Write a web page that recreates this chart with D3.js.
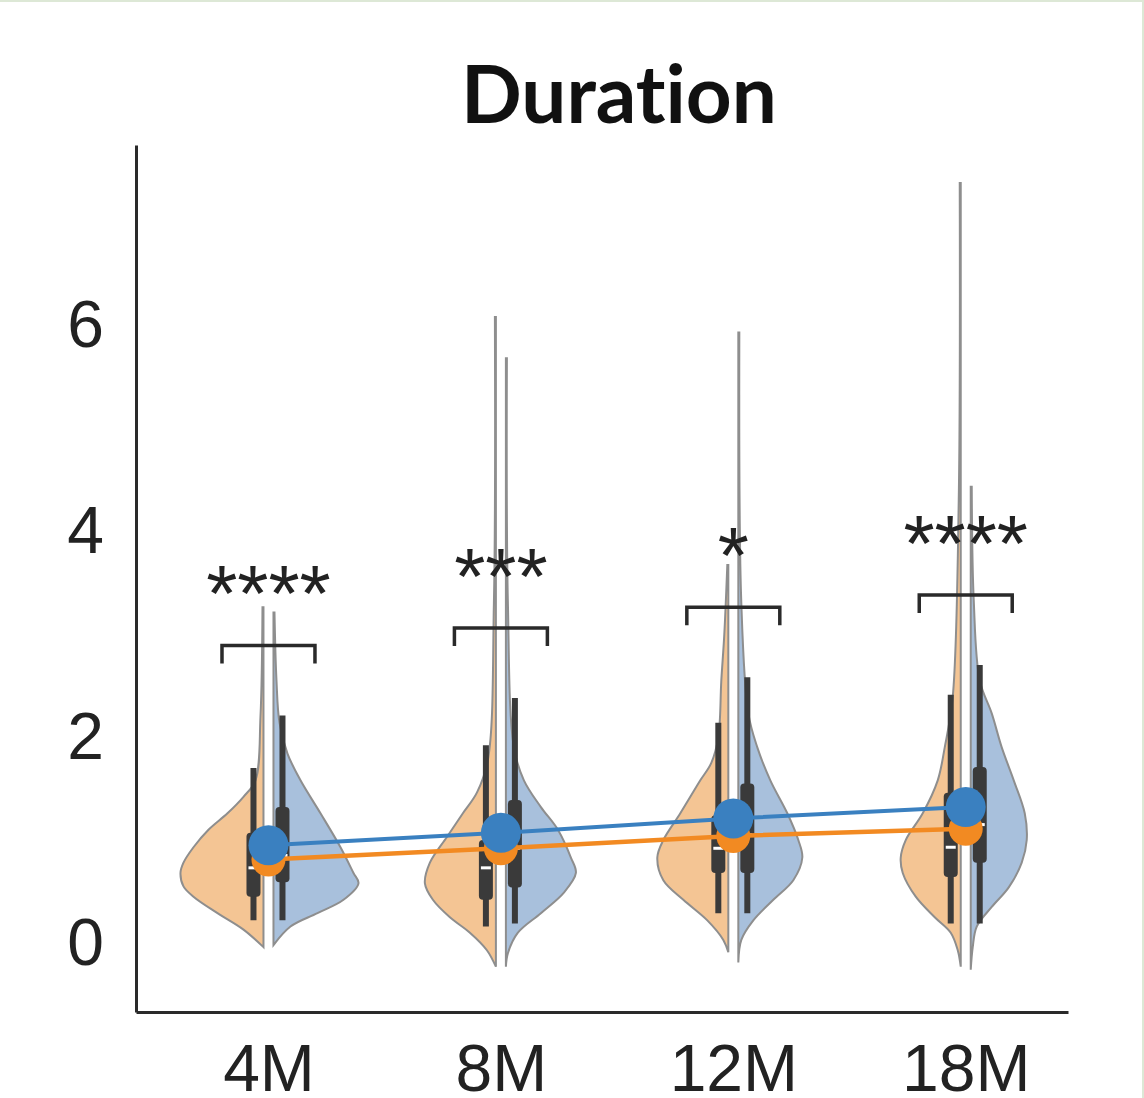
<!DOCTYPE html>
<html>
<head>
<meta charset="utf-8">
<script src="https://cdn.jsdelivr.net/npm/d3@7"></script>
<style>
    body { margin: 0; background: #fff; }
    #frame {
        width: 1142px; height: 1096px;
        border-top: 2px solid #dde8d6;
        border-right: 2px solid #dde8d6;
        position: relative;
    }
    svg { position: absolute; left: 0; top: -2px; }
</style>
</head>
<body>
<div id="frame"><svg id="chart" width="1144" height="1098"></svg></div>
<script>
// categories and tick labels
const categories = ["4M", "8M", "12M", "18M"];
const yTicks = [0, 2, 4, 6];

// group means (orange = left half, blue = right half)
const orangeMeans = [0.81, 0.92, 1.04, 1.11];
const blueMeans = [0.95, 1.07, 1.21, 1.32];

// box stats: [low whisker, q1, median, q3, high whisker]
const orangeBoxes = [
    [0.22, 0.45, 0.73, 1.07, 1.70],
    [0.16, 0.42, 0.73, 1.00, 1.92],
    [0.29, 0.68, 0.92, 1.24, 2.14],
    [0.19, 0.64, 0.93, 1.46, 2.41]
];
const blueBoxes = [
    [0.22, 0.59, 0.85, 1.32, 2.21],
    [0.19, 0.54, 0.92, 1.39, 2.38],
    [0.29, 0.68, 1.05, 1.55, 2.58],
    [0.19, 0.78, 1.15, 1.71, 2.70]
];

// violin profiles: [value, relative density]
const orangeViolins = [
    [[3.26, 0.01], [2.2, 0.03], [1.58, 0.08], [1.42, 0.20], [1.26, 0.36], [1.10, 0.55], [0.93, 0.70], [0.78, 0.80], [0.68, 0.83], [0.55, 0.80], [0.45, 0.70], [0.29, 0.46], [0.13, 0.20], [-0.04, 0]],
    [[6.08, 0.01], [3.3, 0.02], [1.78, 0.08], [1.46, 0.19], [1.26, 0.33], [1.03, 0.49], [0.78, 0.66], [0.58, 0.71], [0.42, 0.63], [0.25, 0.46], [0.10, 0.26], [-0.07, 0.09], [-0.23, 0]],
    [[3.67, 0.01], [3.0, 0.04], [2.55, 0.07], [2.0, 0.10], [1.75, 0.17], [1.58, 0.28], [1.26, 0.48], [1.00, 0.65], [0.83, 0.71], [0.61, 0.65], [0.42, 0.45], [0.22, 0.21], [0.03, 0.05], [-0.09, 0]],
    [[7.38, 0.01], [4.3, 0.02], [2.39, 0.08], [1.90, 0.16], [1.58, 0.23], [1.26, 0.38], [1.00, 0.55], [0.83, 0.60], [0.68, 0.58], [0.45, 0.45], [0.25, 0.26], [0.10, 0.10], [-0.07, 0.03], [-0.23, 0]]
];
const blueViolins = [
    [[3.21, 0.01], [2.55, 0.03], [2.14, 0.06], [1.84, 0.14], [1.58, 0.27], [1.26, 0.47], [0.93, 0.67], [0.68, 0.80], [0.58, 0.85], [0.42, 0.70], [0.29, 0.44], [0.16, 0.17], [-0.02, 0]],
    [[5.68, 0.01], [3.3, 0.02], [1.90, 0.08], [1.58, 0.18], [1.32, 0.35], [1.10, 0.52], [0.83, 0.65], [0.68, 0.70], [0.49, 0.58], [0.29, 0.35], [0.10, 0.12], [-0.10, 0.02], [-0.23, 0]],
    [[5.93, 0.01], [3.3, 0.03], [2.23, 0.10], [1.90, 0.19], [1.58, 0.32], [1.26, 0.49], [1.00, 0.60], [0.83, 0.64], [0.61, 0.55], [0.42, 0.35], [0.22, 0.15], [0.03, 0.03], [-0.19, 0]],
    [[4.43, 0.01], [3.33, 0.03], [2.55, 0.09], [2.23, 0.21], [1.90, 0.31], [1.58, 0.43], [1.26, 0.54], [1.00, 0.56], [0.78, 0.51], [0.54, 0.38], [0.35, 0.21], [0.16, 0.06], [-0.04, 0.02], [-0.26, 0]]
];

// significance brackets
const bracketY = [2.89, 3.06, 3.26, 3.38];
const sigLabels = ["****", "***", "*", "****"];

const svg = d3.select("#chart");

// Scales
const x = d3.scaleLinear().domain([-0.57, 3.44]).range([136, 1068]);
const y = d3.scaleLinear().domain([-0.67, 7.75]).range([1012, 145]);
const dens = d3.scaleLinear().domain([0, 1]).range([0, 100]); // density -> px

const gap = 5;        // half gap between the two violin halves
const boxOffset = 14; // box plot shift from the centre
const lineColor = "#2a2a2a";

// Title
svg.append("text")
    .attr("x", 619)
    .attr("y", 123)
    .attr("text-anchor", "middle")
    .attr("font-family", "Lato, 'Open Sans', sans-serif")
    .attr("font-weight", "bold")
    .attr("font-size", "80px")
    .style("font-variant-ligatures", "none")
    .style("font-feature-settings", "'liga' 0")
    .attr("fill", "#111")
    .text("Duration");

// Violin halves
function halfArea(i, side) {
    const xc = x(i);
    return d3.area()
        .curve(d3.curveCatmullRom)
        .y(d => y(d[0]))
        .x0(xc + side * gap)
        .x1(d => xc + side * (gap + dens(d[1])));
}

const violins = svg.append("g");
categories.forEach((c, i) => {
    violins.append("path")
        .datum(orangeViolins[i])
        .attr("d", halfArea(i, -1))
        .attr("fill", "#f4c594")
        .attr("stroke", "#8e8e8e")
        .attr("stroke-width", 2);
    violins.append("path")
        .datum(blueViolins[i])
        .attr("d", halfArea(i, 1))
        .attr("fill", "#a8c0dc")
        .attr("stroke", "#8e8e8e")
        .attr("stroke-width", 2);
});

// Box plots
function drawBox(g, stats, cx) {
    g.append("line")
        .attr("x1", cx).attr("x2", cx)
        .attr("y1", y(stats[0])).attr("y2", y(stats[4]))
        .attr("stroke", "#3a3a3a")
        .attr("stroke-width", 6);
    g.append("rect")
        .attr("x", cx - 7)
        .attr("width", 14)
        .attr("y", y(stats[3]))
        .attr("height", y(stats[1]) - y(stats[3]))
        .attr("rx", 4)
        .attr("fill", "#3a3a3a");
    g.append("line")
        .attr("x1", cx - 5).attr("x2", cx + 5)
        .attr("y1", y(stats[2])).attr("y2", y(stats[2]))
        .attr("stroke", "#fff")
        .attr("stroke-width", 3);
}

const boxes = svg.append("g");
categories.forEach((c, i) => {
    drawBox(boxes, orangeBoxes[i], x(i) - boxOffset - 1);
    drawBox(boxes, blueBoxes[i], x(i) + boxOffset);
});

// Mean lines and points
const meanLine = d3.line().x((d, i) => x(i)).y(d => y(d));

svg.append("path")
    .datum(orangeMeans)
    .attr("d", meanLine)
    .attr("fill", "none")
    .attr("stroke", "#f28a22")
    .attr("stroke-width", 4.5);

svg.append("path")
    .datum(blueMeans)
    .attr("d", meanLine)
    .attr("fill", "none")
    .attr("stroke", "#3a80c0")
    .attr("stroke-width", 4);

svg.selectAll(".dot-orange")
    .data(orangeMeans)
    .enter()
    .append("circle")
    .attr("class", "dot-orange")
    .attr("cx", (d, i) => x(i))
    .attr("cy", d => y(d))
    .attr("r", 17)
    .attr("fill", "#f28a22");

svg.selectAll(".dot-blue")
    .data(blueMeans)
    .enter()
    .append("circle")
    .attr("class", "dot-blue")
    .attr("cx", (d, i) => x(i))
    .attr("cy", d => y(d))
    .attr("r", 20)
    .attr("fill", "#3a80c0");

// Significance brackets
const bracketHalf = 0.2; // in category units
const legDrop = 18;
const brackets = svg.append("g");
bracketY.forEach((b, i) => {
    const by = y(b);
    brackets.append("path")
        .attr("d", `M${x(i - bracketHalf)},${by + legDrop}V${by}H${x(i + bracketHalf)}V${by + legDrop}`)
        .attr("fill", "none")
        .attr("stroke", lineColor)
        .attr("stroke-width", 3.5);
    brackets.append("text")
        .attr("x", x(i))
        .attr("y", by - 70 + 46)
        .attr("text-anchor", "middle")
        .attr("font-family", "'Liberation Sans', Arial, sans-serif")
        .attr("font-size", "80px")
        .attr("fill", "#222")
        .text(sigLabels[i]);
});

// Axes
const yAxis = svg.append("g")
    .attr("transform", `translate(${x.range()[0]},0)`)
    .call(d3.axisLeft(y).tickValues(yTicks).tickSize(0).tickPadding(32));

const xAxis = svg.append("g")
    .attr("transform", `translate(0,${y.range()[0]})`)
    .call(d3.axisBottom(x).tickValues([0, 1, 2, 3]).tickFormat(i => categories[i]).tickSize(0).tickPadding(32));

[yAxis, xAxis].forEach(a => {
    a.select(".domain").attr("stroke", lineColor).attr("stroke-width", 3);
    a.selectAll("text")
        .attr("font-family", "'Liberation Sans', Arial, sans-serif")
        .attr("font-size", "66px")
        .attr("fill", "#222");
});
</script>
</body>
</html>
